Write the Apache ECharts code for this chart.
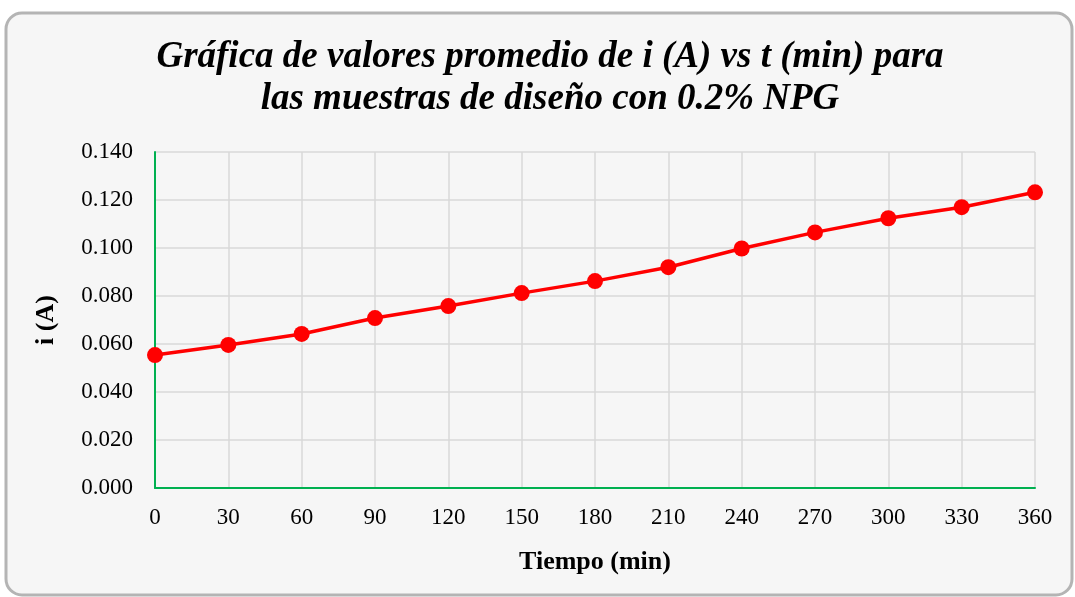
<!DOCTYPE html>
<html><head><meta charset="utf-8">
<script src="https://cdn.jsdelivr.net/npm/echarts@6/dist/echarts.min.js"></script>
<style>html,body{margin:0;padding:0;background:#fff}#c{width:1075px;height:597px}</style>
</head><body><div id="c"></div>
<script>
const tiempos = [0, 30, 60, 90, 120, 150, 180, 210, 240, 270, 300, 330, 360];
const corriente = [0.0554, 0.0596, 0.0642, 0.0708, 0.0758, 0.0812, 0.0862, 0.0920, 0.0998, 0.1065, 0.1124, 0.1170, 0.1232];
const titleLines = ['Gráfica de valores promedio de i (A) vs t (min) para', 'las muestras de diseño con 0.2% NPG'];
const xName = 'Tiempo (min)';
const yName = 'i (A)';

const chart = echarts.init(document.getElementById('c'), null, {renderer: 'canvas'});
const font = '"Liberation Serif", "Times New Roman", serif';
chart.setOption({
  backgroundColor: '#ffffff',
  animation: false,
  graphic: [{
    type: 'rect', z: -10, silent: true,
    shape: {x: 6, y: 13, width: 1066, height: 582, r: 16},
    style: {fill: '#f6f6f6', stroke: '#b4b4b4', lineWidth: 3}
  }],
  title: {
    text: titleLines.join('\n'),
    left: 545, top: 31, textAlign: 'center',
    textStyle: {fontFamily: font, fontStyle: 'italic', fontWeight: 'bold', fontSize: 37, color: '#000', lineHeight: 42}
  },
  grid: {left: 155, right: 40, top: 152, bottom: 109},
  xAxis: {
    type: 'value', min: 0, max: 360, interval: 30,
    name: xName, nameLocation: 'middle', nameGap: 61,
    nameTextStyle: {fontFamily: font, fontWeight: 'bold', fontSize: 26, color: '#000'},
    axisLine: {show: true, lineStyle: {color: '#00B050', width: 2}},
    axisTick: {show: false},
    axisLabel: {fontFamily: font, fontSize: 23, color: '#000', margin: 18},
    splitLine: {show: true, lineStyle: {color: '#d9d9d9', width: 1.5}}
  },
  yAxis: {
    type: 'value', min: 0, max: 0.14, interval: 0.02,
    name: yName, nameLocation: 'middle', nameGap: 96,
    nameTextStyle: {fontFamily: font, fontWeight: 'bold', fontSize: 26, color: '#000'},
    axisLine: {show: true, lineStyle: {color: '#00B050', width: 2}},
    axisTick: {show: false},
    axisLabel: {fontFamily: font, fontSize: 23, color: '#000', margin: 22, formatter: v => v.toFixed(3)},
    splitLine: {show: true, lineStyle: {color: '#d9d9d9', width: 1.5}}
  },
  series: [{
    type: 'line',
    data: tiempos.map((t, i) => [t, corriente[i]]),
    symbol: 'circle', symbolSize: 16,
    lineStyle: {color: '#ff0000', width: 3.5},
    itemStyle: {color: '#ff0000'},
    clip: false
  }]
});
</script></body></html>
